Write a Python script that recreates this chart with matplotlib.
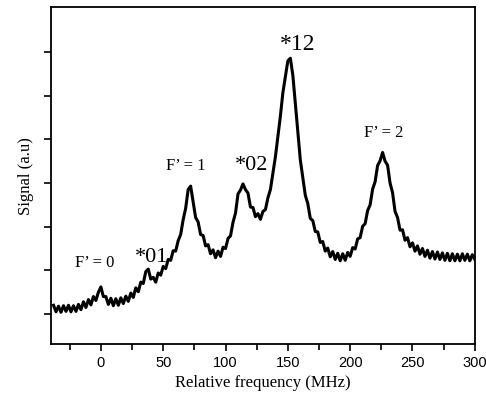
import numpy as np
import matplotlib
matplotlib.use('Agg')
import matplotlib.pyplot as plt
from matplotlib.ticker import MultipleLocator

# frequency grid (MHz), one sample every 2 MHz
freq = np.arange(-38, 302, 2)

# signal (a.u.), noise included
signal = [
    1.20, 1.05, 1.18, 1.04, 1.19, 1.06, 1.20, 1.05, 1.19, 1.06,
    1.22, 1.10, 1.28, 1.15, 1.33, 1.21, 1.40, 1.31, 1.50, 1.62,
    1.40, 1.40, 1.22, 1.36, 1.19, 1.35, 1.20, 1.37, 1.24, 1.41,
    1.29, 1.48, 1.38, 1.60, 1.51, 1.73, 1.70, 1.97, 2.03, 1.80,
    1.84, 1.73, 1.94, 1.89, 2.09, 2.04, 2.25, 2.23, 2.45, 2.44,
    2.68, 2.82, 3.16, 3.42, 3.85, 3.93, 3.57, 3.21, 3.11, 2.82,
    2.80, 2.56, 2.59, 2.38, 2.47, 2.29, 2.44, 2.32, 2.53, 2.50,
    2.73, 2.79, 3.10, 3.31, 3.75, 3.84, 3.98, 3.85, 3.77, 3.45,
    3.44, 3.23, 3.30, 3.17, 3.35, 3.39, 3.66, 3.85, 4.23, 4.60,
    5.07, 5.53, 6.07, 6.44, 6.80, 6.86, 6.47, 5.83, 5.17, 4.53,
    4.13, 3.72, 3.53, 3.19, 3.14, 2.89, 2.88, 2.64, 2.66, 2.44,
    2.51, 2.31, 2.43, 2.25, 2.39, 2.22, 2.38, 2.23, 2.41, 2.32,
    2.52, 2.49, 2.72, 2.75, 3.01, 3.07, 3.37, 3.50, 3.86, 4.03,
    4.40, 4.51, 4.70, 4.50, 4.41, 4.00, 3.78, 3.35, 3.21, 2.92,
    2.93, 2.69, 2.75, 2.54, 2.63, 2.44, 2.56, 2.37, 2.50, 2.32,
    2.46, 2.28, 2.43, 2.26, 2.42, 2.25, 2.40, 2.23, 2.39, 2.22,
    2.38, 2.22, 2.37, 2.22, 2.38, 2.23, 2.37, 2.22, 2.36, 2.25,
]

# peak labels: (text, x, y, fontsize)
labels = [
    ("F\u2019 = 0", -5, 2.08, 12),
    ("*01", 41, 2.19, 16),
    ("F\u2019 = 1", 68, 4.30, 12),
    ("*02", 121, 4.30, 16),
    ("*12", 158, 7.04, 17),
    ("F\u2019 = 2", 227, 5.05, 12),
]

fig = plt.figure(figsize=(4.86, 3.96), dpi=100)
ax = fig.add_axes([0.105, 0.131, 0.872, 0.851])

ax.plot(freq, signal, color='black', lw=2.2)

for txt, x, y, fs in labels:
    ax.text(x, y, txt, ha='center', va='baseline', fontsize=fs,
            family='Liberation Serif')

ax.set_xlim(-40, 300)
ax.set_ylim(0.31, 8.03)
ax.xaxis.set_major_locator(MultipleLocator(50))
ax.xaxis.set_minor_locator(MultipleLocator(25))
ax.set_yticks(range(1, 8))
ax.set_yticklabels([])
ax.tick_params(direction='out', length=5, width=1.2, labelsize=10.5,
               top=False, right=False)
ax.tick_params(which='minor', direction='out', length=4, width=1.2,
               top=False)
for lab in ax.get_xticklabels():
    lab.set_family('Liberation Sans')
for s in ax.spines.values():
    s.set_linewidth(1.3)

ax.set_xlabel('Relative frequency (MHz)', family='Liberation Serif', fontsize=12)
ax.set_ylabel('Signal (a.u)', family='Liberation Serif', fontsize=12)

fig.savefig('out.png', dpi=100)
